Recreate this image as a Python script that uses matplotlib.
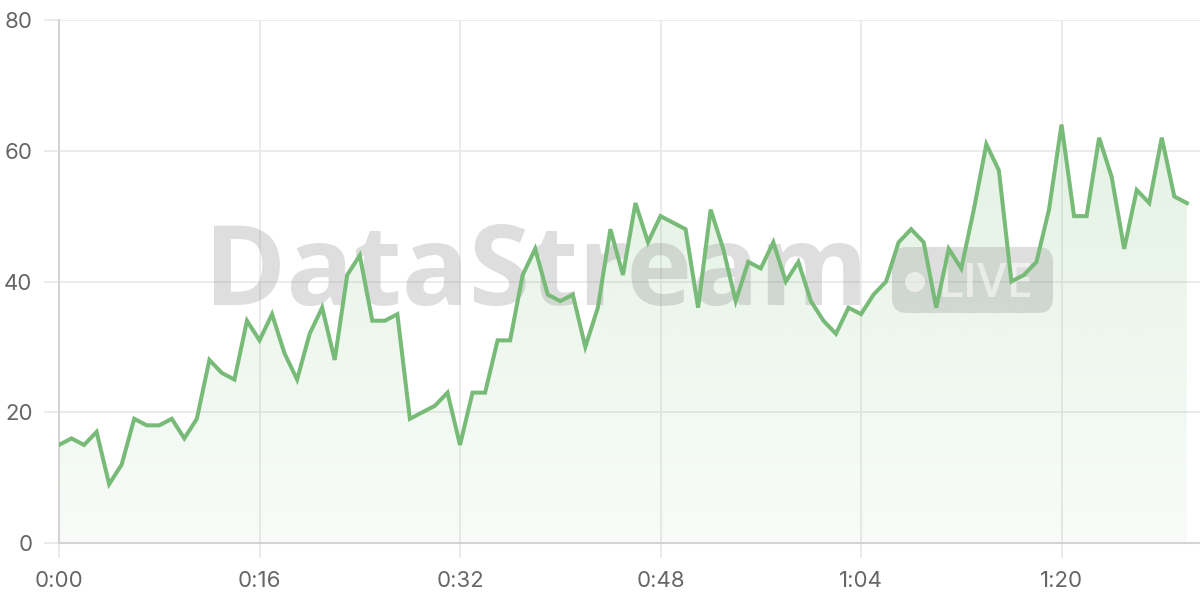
import numpy as np
import matplotlib
matplotlib.use("Agg")
import matplotlib.pyplot as plt
from matplotlib.patches import FancyBboxPatch, Circle

# viewers per second, 0..90 s
seconds = list(range(91))
viewers = [15, 16, 15, 17, 9, 12, 19, 18, 18, 19, 16, 19, 28, 26, 25, 34, 31, 35, 29, 25,
           32, 36, 28, 41, 44, 34, 34, 35, 19, 20, 21, 23, 15, 23, 23, 31, 31, 41, 45, 38,
           37, 38, 30, 36, 48, 41, 52, 46, 50, 49, 48, 36, 51, 45, 37, 43, 42, 46, 40, 43,
           37, 34, 32, 36, 35, 38, 40, 46, 48, 46, 36, 45, 42, 51, 61, 57, 40, 41, 43, 51,
           64, 50, 50, 62, 56, 45, 54, 52, 62, 53, 52]
xtick_pos = [0, 16, 32, 48, 64, 80]
xtick_labels = ["0:00", "0:16", "0:32", "0:48", "1:04", "1:20"]
ytick_pos = [0, 20, 40, 60, 80]

plt.rcParams['font.family'] = ['Inter', 'DejaVu Sans']

line_color = "#78bb78"
grid_color = "#e8e8e8"
tick_color = "#666666"

fig = plt.figure(figsize=(12, 6), dpi=100)
ax = fig.add_axes([59 / 1200, 57 / 600, 1 - 59 / 1200, (543 - 20) / 600])

# gradient fill under the line
fill = ax.fill_between(seconds, viewers, 0, color="none", lw=0)
grad = np.zeros((256, 1, 4))
grad[:, 0, 0] = 120 / 255
grad[:, 0, 1] = 190 / 255
grad[:, 0, 2] = 120 / 255
grad[:, 0, 3] = np.linspace(0.24, 0.05, 256)
img = ax.imshow(grad, extent=[0, 90, 0, 80], aspect="auto", origin="upper", zorder=1)
img.set_clip_path(fill.get_paths()[0], transform=ax.transData)

ax.plot(seconds, viewers, color=line_color, lw=2.9, solid_joinstyle="miter", zorder=4)

# watermark (behind the line)
ax.text(204 / 1200, 1 - 305 / 600, "DataStream", transform=fig.transFigure,
        fontsize=80, fontweight="bold", family=["Open Sans", "DejaVu Sans"],
        color="#8a8a8a", alpha=0.28, ha="left", va="baseline", zorder=3)
badge = FancyBboxPatch((907, 600 - 298), 131, 36, transform=None,
                       boxstyle="round,pad=15,rounding_size=15",
                       facecolor="#8a8a8a", alpha=0.28, lw=0, zorder=3)
ax.add_artist(badge)
ax.add_artist(Circle((915, 600 - 282), 10, transform=None, facecolor="white",
                     alpha=0.55, lw=0, zorder=3))
ax.text(938 / 1200, 1 - 297 / 600, "LIVE", transform=fig.transFigure, fontsize=34,
        fontweight="semibold", family=["Open Sans", "DejaVu Sans"],
        color="white", alpha=0.55, ha="left", va="baseline", zorder=3)

ax.set_xlim(0, 91.05)
ax.set_ylim(0, 80)
ax.set_xticks(xtick_pos)
ax.set_xticklabels(xtick_labels)
ax.set_yticks(ytick_pos)
ax.grid(True, color=grid_color, lw=1.2, zorder=0)
ax.set_axisbelow(True)
for side in ["top", "right"]:
    ax.spines[side].set_visible(False)
for side in ["left", "bottom"]:
    ax.spines[side].set_color("#d4d4d4")
    ax.spines[side].set_linewidth(1.5)
ax.tick_params(axis="both", length=11, width=1.2, color=grid_color,
               labelcolor=tick_color, labelsize=16)
ax.tick_params(axis="y", pad=8)
ax.tick_params(axis="x", pad=9)

fig.savefig("out.png", dpi=100, facecolor="white")
